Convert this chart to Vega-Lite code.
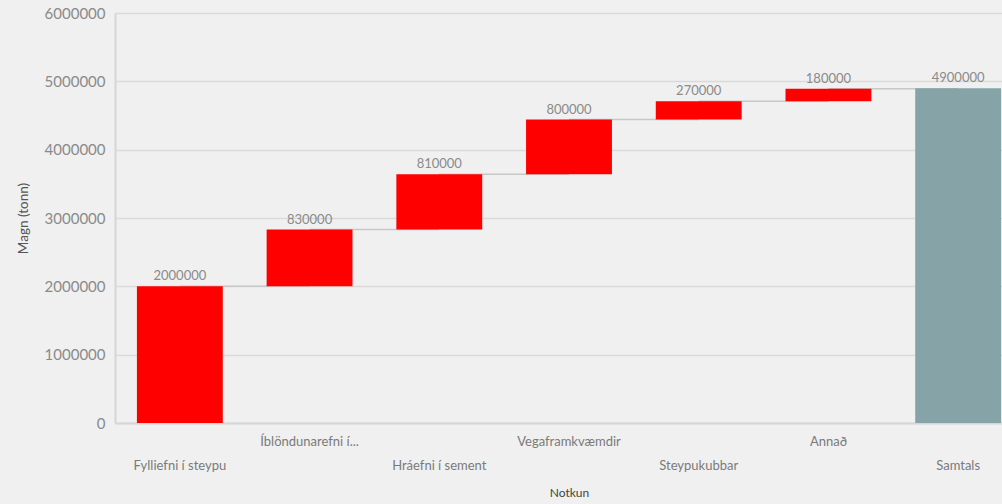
{
  "$schema": "https://vega.github.io/schema/vega-lite/v6.json",
  "autosize": "none",
  "padding": {"left": 115, "top": 13, "right": 0, "bottom": 81},
  "width": 908,
  "height": 410,
  "background": "#f0f0f0",
  "config": {
    "view": {"stroke": null},
    "font": "Lato"
  },
  "data": {
    "values": [
      {"cat": "Fylliefni í steypu", "value": 2000000, "start": 0, "end": 2000000, "kind": "delta", "next": "Íblöndunarefni í..."},
      {"cat": "Íblöndunarefni í...", "value": 830000, "start": 2000000, "end": 2830000, "kind": "delta", "next": "Hráefni í sement"},
      {"cat": "Hráefni í sement", "value": 810000, "start": 2830000, "end": 3640000, "kind": "delta", "next": "Vegaframkvæmdir"},
      {"cat": "Vegaframkvæmdir", "value": 800000, "start": 3640000, "end": 4440000, "kind": "delta", "next": "Steypukubbar"},
      {"cat": "Steypukubbar", "value": 270000, "start": 4440000, "end": 4710000, "kind": "delta", "next": "Annað"},
      {"cat": "Annað", "value": 180000, "start": 4710000, "end": 4890000, "kind": "delta", "next": "Samtals"},
      {"cat": "Samtals", "value": 4900000, "start": 0, "end": 4900000, "kind": "total", "next": null}
    ]
  },
  "encoding": {
    "x": {
      "field": "cat",
      "type": "nominal",
      "sort": null,
      "scale": {"paddingInner": 0.338, "paddingOuter": 0.169},
      "axis": {
        "title": "Notkun",
        "titleFont": "Lato",
        "titleFontSize": 12,
        "titleFontWeight": "normal",
        "titleColor": "#444444",
        "titlePadding": 15,
        "labelAngle": 0,
        "labelFont": "Lato",
        "labelFontSize": 13,
        "labelColor": "#7a7a7a",
        "labelPadding": 12,
        "labelLineHeight": 24,
        "labelBaseline": "top",
        "labelExpr": "indexof(['Íblöndunarefni í...', 'Vegaframkvæmdir', 'Annað'], datum.label) >= 0 ? datum.label : ['', datum.label]",
        "ticks": false,
        "domainColor": "#d6d6d6",
        "domainWidth": 2,
        "labelLimit": 0
      }
    }
  },
  "layer": [
    {
      "mark": {"type": "rule", "color": "#c8c8c8", "strokeWidth": 1.5},
      "transform": [{"filter": "datum.next != null"}],
      "encoding": {
        "x2": {"field": "next"},
        "y": {"field": "end", "type": "quantitative"}
      }
    },
    {
      "mark": {"type": "bar"},
      "encoding": {
        "y": {
          "field": "start",
          "type": "quantitative",
          "scale": {"domain": [0, 6000000], "nice": false},
          "axis": {
            "title": "Magn (tonn)",
            "titleFont": "Lato",
            "titleFontSize": 13.5,
            "titleFontWeight": "normal",
            "titleColor": "#555555",
            "titlePadding": 14,
            "values": [0, 1000000, 2000000, 3000000, 4000000, 5000000, 6000000],
            "format": "d",
            "labelFont": "Lato",
            "labelFontSize": 15,
            "labelColor": "#8a8a8a",
            "labelPadding": 10,
            "ticks": false,
            "domainColor": "#d6d6d6",
            "domainWidth": 2,
            "gridColor": "#d9d9d9",
            "gridWidth": 1.5
          }
        },
        "y2": {"field": "end"},
        "color": {
          "field": "kind",
          "type": "nominal",
          "scale": {"domain": ["delta", "total"], "range": ["#ff0000", "#86a4a7"]},
          "legend": null
        }
      }
    },
    {
      "mark": {"type": "text", "baseline": "bottom", "dy": -3, "font": "Lato", "fontSize": 13, "color": "#8a8a8a"},
      "encoding": {
        "y": {"field": "end", "type": "quantitative"},
        "text": {"field": "value", "type": "quantitative", "format": "d"}
      }
    }
  ]
}
